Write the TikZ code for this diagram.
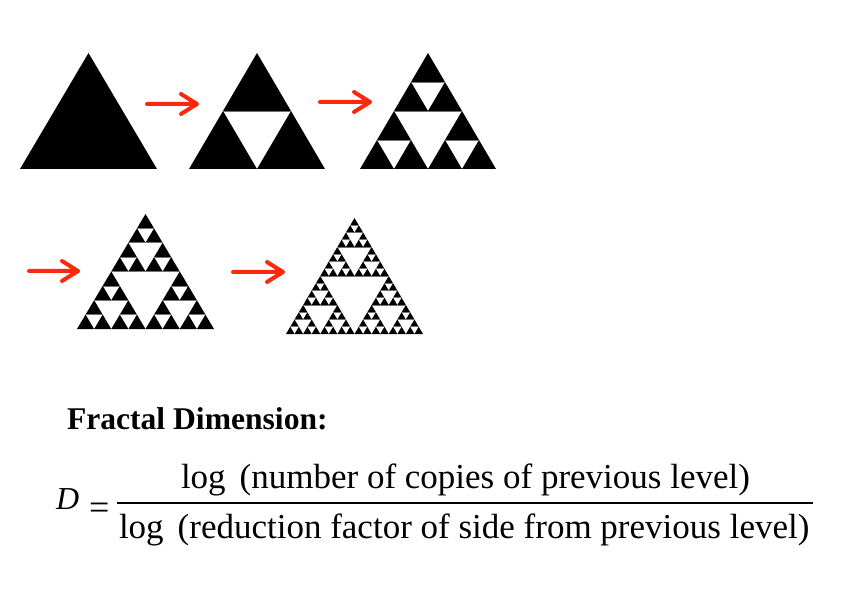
\documentclass[tikz,border=0pt]{standalone}
\usepackage{fontspec}
\setmainfont{Liberation Serif}
\usepackage{graphicx}
\definecolor{arrred}{RGB}{255,40,10}
\definecolor{seam}{gray}{0.45}
\newcommand\sierpdraw[5]{% level, x left, y base, width, height (signed)
  \ifnum#1=0
    \fill[black] (#2,#3) -- ++(#4,0) -- ++({-#4/2},#5) -- cycle;
  \else
    \begingroup
    \pgfmathsetmacro\shw{#4/2}\pgfmathsetmacro\shh{#5/2}%
    \pgfmathsetmacro\sxm{#2+#4/2}\pgfmathsetmacro\sxq{#2+#4/4}%
    \pgfmathsetmacro\sym{#3+#5/2}%
    \pgfmathtruncatemacro\slv{#1-1}%
    \edef\snext{\noexpand\sierpdraw{\slv}{#2}{#3}{\shw}{\shh}%
      \noexpand\sierpdraw{\slv}{\sxm}{#3}{\shw}{\shh}%
      \noexpand\sierpdraw{\slv}{\sxq}{\sym}{\shw}{\shh}}%
    \snext
    \draw[seam, line width=0.7pt] (\sxq,\sym) -- ++(\shw,0);
    \endgroup
  \fi}
\tikzset{
  redarrow/.style={draw=arrred, line width=4pt, line cap=round, line join=round},
  txt/.style={anchor=base west, inner sep=0pt, outer sep=0pt},
}
\begin{document}
\begin{tikzpicture}[x=1pt, y=-1pt]
\useasboundingbox[fill=white] (0,0) rectangle (861,601);

% Sierpinski levels
\sierpdraw{0}{20}{169}{137}{-116}
\sierpdraw{1}{189}{169}{136}{-116}
\sierpdraw{2}{360}{169}{136}{-116}
\sierpdraw{3}{77}{329}{137}{-115}
\sierpdraw{4}{286}{334}{137}{-116}

% arrows
\coordinate (a1s) at (147,104); \coordinate (a1e) at (197,104);
\coordinate (a2s) at (320,102); \coordinate (a2e) at (370,102);
\coordinate (a3s) at (29,271);  \coordinate (a3e) at (78,271);
\coordinate (a4s) at (233,272); \coordinate (a4e) at (283,272);
\foreach \s/\e in {a1s/a1e, a2s/a2e, a3s/a3e, a4s/a4e}{
  \draw[redarrow] (\s) -- (\e) ++(-16,-10) -- (\e) -- ++(-16,10);
}

% text
\node[txt, font=\fontsize{31.6}{38}\selectfont\bfseries] (title) at (67,429) {Fractal Dimension:};
\node[txt, font=\fontsize{32}{38}\selectfont\itshape] (D) at (56,509) {D};
\node[txt, font=\fontsize{36}{42}\selectfont] (eq) at (89,519) {=};
\coordinate (fl) at (117,503); \coordinate (fr) at (813,503);
\draw[line width=2pt] (fl) -- (fr);
\node[txt, font=\fontsize{35}{42}\selectfont] (num) at (181,488)
  {log\hspace{0.4em}(number of copies of previous level)};
\node[txt, font=\fontsize{35}{42}\selectfont] (den) at (119,538)
  {log\hspace{0.4em}(reduction factor of side from previous level)};
\end{tikzpicture}
\end{document}
